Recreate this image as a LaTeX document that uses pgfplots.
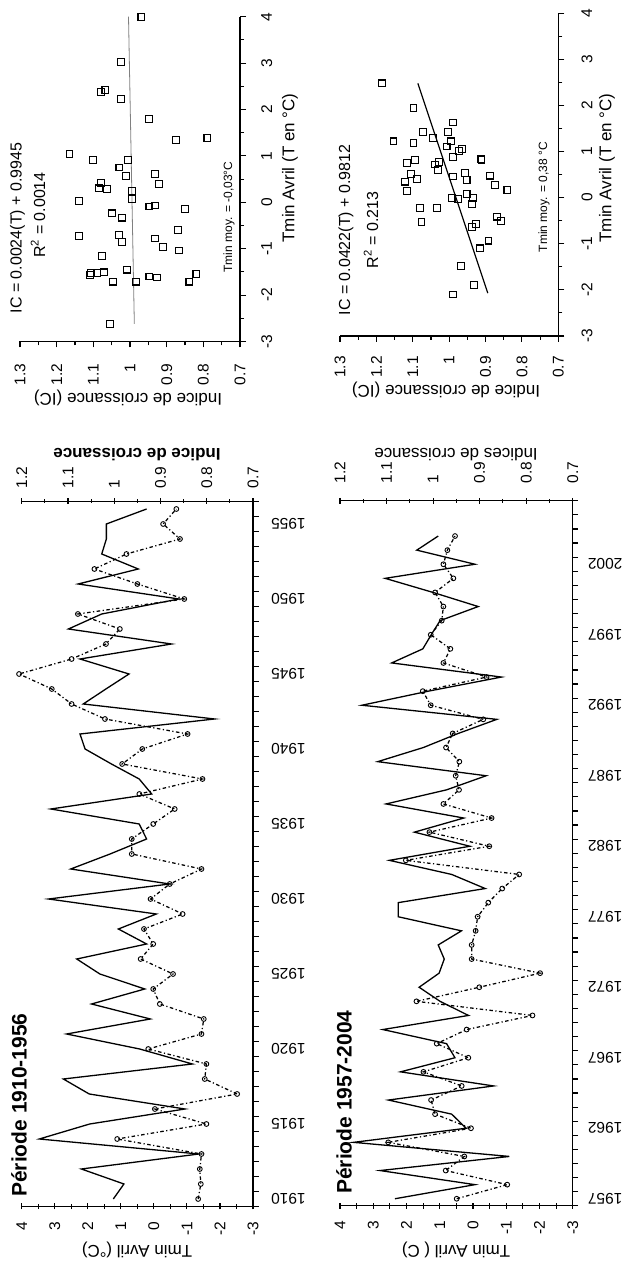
\documentclass[border=0pt]{standalone}
\usepackage{fontspec}
\setmainfont{Liberation Sans}
\usepackage{graphicx}
\usepackage{pgfplots}
\pgfplotsset{compat=1.18}
\newcommand\tickfont{\fontsize{15.5}{18}\selectfont}
\newcommand\labfont{\fontsize{17}{20}\selectfont}
\pgfplotsset{
  myaxis/.style={scale only axis, anchor=south west, clip=false,
    axis line style={line width=1.4pt},
    tick style={black, line width=1.1pt},
    major tick length=6pt, minor tick length=4pt,
    tick label style={font=\tickfont, inner sep=0pt},
  },
  yearaxis/.style={major x tick style={draw=none},
    minor x tick style={black, line width=1.2pt}, minor tick length=5.5pt,
    xticklabel style={rotate=90, anchor=east}, xtick align=outside},
  tsline/.style={black, line width=1.3pt, mark=none},
  tscirc/.style={black, line width=1.25pt, dash pattern=on 3.5pt off 2.5pt on 1.2pt off 2.5pt,
    mark=o, mark size=2.4pt, mark options={solid, line width=0.9pt}},
  scsq/.style={only marks, mark=square, mark size=3.4pt, mark options={black, line width=1.1pt}},
}
\begin{document}
\rotatebox{90}{%
\begin{tikzpicture}
\useasboundingbox (0pt,0pt) rectangle (1264pt,-622pt);
% ===== Time series 1910-1956 =====
\begin{axis}[myaxis, at={(57.5pt,-253pt)}, width=705pt, height=231.3pt,
  xmin=1909.5, xmax=1956.5, ymin=-3, ymax=4,
  axis x line*=bottom, axis y line*=left, yearaxis,
  xtick={1910,1915,...,1955},
  xticklabels={1910,1915,1920,1925,1930,1935,1940,1945,1950,1955},
  minor xtick={1909.5,1910.5,...,1956.5},
  xticklabel shift=12pt, ytick align=center,
  ytick={-3,-2,-1,0,1,2,3,4}, yticklabels={-3,-2,-1,0,1,2,3,4},
  minor ytick={-2.5,-1.5,-0.5,0.5,1.5,2.5,3.5},
  yticklabel shift=12pt]
\addplot[tscirc] coordinates {(1910,-1.34) (1911,-1.42) (1912,-1.39) (1913,-1.44) (1914,1.11) (1915,-1.59) (1916,-0.03) (1917,-2.52) (1918,-1.54) (1919,-1.59) (1920,0.17) (1921,-1.44) (1922,-1.51) (1923,-0.18) (1924,0.02) (1925,-0.58) (1926,0.40) (1927,0.02) (1928,0.30) (1929,-0.87) (1930,0.10) (1931,-0.48) (1932,-1.44) (1933,0.67) (1934,0.67) (1935,0.02) (1936,-0.63) (1937,0.44) (1938,-1.47) (1939,0.96) (1940,0.35) (1941,-1.02) (1942,1.48) (1943,2.49) (1944,3.09) (1945,4.08) (1946,2.49) (1947,1.45) (1948,1.03) (1949,2.30) (1950,-0.92) (1951,0.50) (1952,1.80) (1953,0.83) (1954,-0.79) (1955,-0.28) (1956,-0.68)};
\end{axis}
\begin{axis}[myaxis, at={(57.5pt,-253pt)}, width=705pt, height=231.3pt,
  xmin=1909.5, xmax=1956.5, ymin=0.7, ymax=1.2,
  axis x line=none, axis y line*=right, ytick align=center,
  ytick={0.7,0.8,0.9,1,1.1,1.2}, yticklabels={0.7,0.8,0.9,1,1.1,1.2},
  minor ytick={0.75,0.85,0.95,1.05,1.15},
  yticklabel shift=10pt]
\addplot[tsline] coordinates {(1910,1.002) (1911,0.979) (1912,1.071) (1913,0.817) (1914,1.162) (1915,1.053) (1916,0.847) (1917,1.054) (1918,1.110) (1919,0.831) (1920,0.945) (1921,1.103) (1922,0.922) (1923,1.049) (1924,0.934) (1925,1.031) (1926,1.081) (1927,0.930) (1928,0.991) (1929,0.909) (1930,1.142) (1931,0.880) (1932,1.094) (1933,1.009) (1934,0.930) (1935,0.946) (1936,1.137) (1937,0.919) (1938,0.946) (1939,1.006) (1940,1.063) (1941,1.074) (1942,0.783) (1943,1.067) (1944,1.018) (1945,0.968) (1946,1.074) (1947,0.876) (1948,1.099) (1949,1.027) (1950,0.860) (1951,1.078) (1952,0.948) (1953,1.027) (1954,1.017) (1955,1.017) (1956,0.930)};
\end{axis}
% ===== Time series 1957-2004 =====
\begin{axis}[myaxis, at={(58.2pt,-572.7pt)}, width=705pt, height=232.7pt,
  xmin=1956.5, xmax=2006.5, ymin=-3, ymax=4,
  axis x line*=bottom, axis y line*=left, yearaxis,
  xtick={1957,1962,...,2002},
  xticklabels={1957,1962,1967,1972,1977,1982,1987,1992,1997,2002},
  minor xtick={1956.5,1957.5,...,2006.5},
  xticklabel shift=9pt, ytick align=center,
  ytick={-3,-2,-1,0,1,2,3,4}, yticklabels={-3,-2,-1,0,1,2,3,4},
  minor ytick={-2.5,-1.5,-0.5,0.5,1.5,2.5,3.5},
  yticklabel shift=12pt]
\addplot[tscirc] coordinates {(1957,0.49) (1958,-1.03) (1959,0.82) (1960,0.26) (1961,2.55) (1962,0.06) (1963,1.14) (1964,1.26) (1965,0.34) (1966,1.49) (1967,0.14) (1968,1.09) (1969,0.19) (1970,-1.79) (1971,1.70) (1972,-0.19) (1973,-2.02) (1974,0.04) (1975,0.04) (1976,-0.08) (1977,-0.14) (1978,-0.46) (1979,-0.88) (1980,-1.39) (1981,2.02) (1982,-0.49) (1983,1.31) (1984,-0.56) (1985,0.89) (1986,0.42) (1987,0.52) (1988,0.41) (1989,0.81) (1990,0.61) (1991,-0.31) (1992,1.27) (1993,1.51) (1994,-0.41) (1995,0.89) (1996,0.68) (1997,1.27) (1998,0.94) (1999,0.89) (2000,1.14) (2001,0.59) (2002,0.89) (2003,0.77) (2004,0.54)};
\end{axis}
\begin{axis}[myaxis, at={(58.2pt,-572.7pt)}, width=705pt, height=232.7pt,
  xmin=1956.5, xmax=2006.5, ymin=0.7, ymax=1.2,
  axis x line=none, axis y line*=right, ytick align=center,
  ytick={0.7,0.8,0.9,1,1.1,1.2}, yticklabels={0.7,0.8,0.9,1,1.1,1.2},
  minor ytick={0.75,0.85,0.95,1.05,1.15},
  yticklabel shift=14pt]
\addplot[tsline] coordinates {(1957,1.082) (1958,0.910) (1959,1.114) (1960,0.836) (1961,1.171) (1962,0.929) (1963,0.960) (1964,1.096) (1965,0.870) (1966,1.070) (1967,0.953) (1968,0.971) (1969,1.108) (1970,0.924) (1971,0.985) (1972,1.030) (1973,0.987) (1974,0.976) (1975,0.989) (1976,0.939) (1977,1.075) (1978,1.075) (1979,0.888) (1980,0.960) (1981,1.094) (1982,0.921) (1983,1.040) (1984,0.934) (1985,1.101) (1986,0.971) (1987,0.886) (1988,1.119) (1989,1.021) (1990,0.946) (1991,0.863) (1992,1.153) (1993,1.010) (1994,0.853) (1995,1.089) (1996,1.022) (1997,1.004) (1998,0.985) (1999,0.903) (2000,1.000) (2001,1.103) (2002,0.910) (2003,1.035) (2004,0.989)};
\end{axis}
% ===== Scatter 1910-1956 =====
\begin{axis}[myaxis, at={(922.5pt,-240pt)}, width=324.8pt, height=220pt,
  xmin=-3, xmax=4, ymin=0.7, ymax=1.3,
  axis x line*=bottom, axis y line*=left, tick align=outside,
  xtick={-3,-2,-1,0,1,2,3,4}, xticklabels={-3,-2,-1,0,1,2,3,4},
  minor xtick={-2.5,-1.5,-0.5,0.5,1.5,2.5,3.5},
  ytick={0.7,0.8,0.9,1,1.1,1.2,1.3}, yticklabels={0.7,0.8,0.9,1,1.1,1.2,1.3},
  minor ytick={0.75,0.85,0.95,1.05,1.15,1.25},
  xticklabel shift=15pt, yticklabel shift=16pt]
\addplot[scsq] coordinates {(4.0,0.969) (3.03,1.025) (2.42,1.067) (2.38,1.079) (2.22,1.025) (1.79,0.948) (1.34,0.875) (1.38,0.789) (1.04,1.165) (0.91,1.101) (0.91,1.006) (0.75,1.029) (0.57,1.011) (0.61,0.932) (0.39,0.921) (0.41,1.079) (0.30,1.085) (0.28,1.063) (0.25,0.994) (0.07,0.994) (0.03,1.139) (-0.09,0.947) (-0.07,0.931) (-0.15,0.850) (-0.24,1.049) (-0.33,1.021) (-0.60,0.870) (-0.73,1.139) (-0.71,1.030) (-0.86,1.021) (-0.78,0.932) (-0.97,0.910) (-1.04,0.867) (-1.15,1.076) (-1.45,1.008) (-1.57,1.110) (-1.53,1.107) (-1.53,1.090) (-1.51,1.070) (-1.71,1.046) (-1.71,0.983) (-1.60,0.947) (-1.62,0.926) (-1.71,0.838) (-1.55,0.819) (-2.62,1.055)};
\addplot[gray, line width=0.8pt] coordinates {(-2.62,0.9882) (4.0,1.0041)};
\end{axis}
% ===== Scatter 1957-2004 =====
\begin{axis}[myaxis, at={(928pt,-558.3pt)}, width=322.7pt, height=218.3pt,
  xmin=-3, xmax=4, ymin=0.7, ymax=1.3,
  axis x line*=bottom, axis y line*=left, tick align=outside,
  xtick={-3,-2,-1,0,1,2,3,4}, xticklabels={-3,-2,-1,0,1,2,3,4},
  minor xtick={-2.5,-1.5,-0.5,0.5,1.5,2.5,3.5},
  ytick={0.7,0.8,0.9,1,1.1,1.2,1.3}, yticklabels={0.7,0.8,0.9,1,1.1,1.2,1.3},
  minor ytick={0.75,0.85,0.95,1.05,1.15,1.25},
  xticklabel shift=17pt, yticklabel shift=14pt]
\addplot[scsq] coordinates {(2.48,1.184) (1.94,1.098) (1.22,1.153) (1.43,1.071) (1.29,1.045) (1.63,0.990) (1.42,1.004) (1.22,0.995) (1.18,1.098) (1.11,1.007) (1.06,0.964) (1.02,0.972) (0.89,0.990) (0.84,0.913) (0.82,0.911) (0.76,1.115) (0.82,1.094) (0.72,1.039) (0.77,1.027) (0.60,1.030) (0.51,1.105) (0.46,0.990) (0.48,0.888) (0.54,0.956) (0.38,0.952) (0.35,1.121) (0.41,1.089) (0.28,0.874) (0.15,1.115) (0.17,0.840) (0.00,0.993) (-0.03,0.975) (0.08,0.952) (0.00,0.934) (-0.14,0.938) (-0.23,1.080) (-0.23,1.034) (-0.53,1.076) (-0.41,0.869) (-0.50,0.858) (-0.63,0.938) (-0.57,0.926) (-0.93,0.892) (-1.10,0.915) (-1.48,0.968) (-1.89,0.931) (-2.10,0.990)};
\addplot[black, line width=1.2pt] coordinates {(-2.07,0.8938) (2.48,1.0859)};
\end{axis}
% ===== texts =====
\node[font=\bfseries\fontsize{21}{24}\selectfont, anchor=base west, inner sep=0pt] at (67pt,-26.7pt) {Période 1910-1956};
\node[font=\bfseries\fontsize{21}{24}\selectfont, anchor=base west, inner sep=0pt] at (70pt,-351.7pt) {Période 1957-2004};
\node[font=\labfont, rotate=90] at (14pt,-137pt) {Tmin Avril (°C)};
\node[font=\labfont, rotate=90] at (14pt,-456pt) {Tmin Avril ( C)};
\node[font=\bfseries\labfont, rotate=90] at (809pt,-137pt) {Indice de croissance};
\node[font=\labfont, rotate=90] at (809pt,-456pt) {Indices de croissance};
\node[font=\labfont] at (1096pt,-290pt) {Tmin Avril (T en °C)};
\node[font=\labfont, rotate=90] at (866pt,-128pt) {Indice de croissance (IC)};
\node[font=\labfont] at (1096pt,-607pt) {Tmin Avril (T en °C)};
\node[font=\labfont, rotate=90] at (874pt,-446pt) {Indice de croissance (IC)};
\node[font=\fontsize{16}{19}\selectfont, anchor=base, inner sep=0pt] at (1036pt,-21.7pt) {IC = 0.0024(T) + 0.9945};
\node[font=\fontsize{16}{19}\selectfont, anchor=base, inner sep=0pt] at (1049pt,-45pt) {R\textsuperscript{2} = 0.0014};
\node[font=\fontsize{12}{14}\selectfont, anchor=base, inner sep=0pt] at (1047pt,-232pt) {Tmin moy. = -0,03°C};
\node[font=\fontsize{16}{19}\selectfont, anchor=base, inner sep=0pt] at (1034pt,-350pt) {IC = 0.0422(T) + 0.9812};
\node[font=\fontsize{16}{19}\selectfont, anchor=base, inner sep=0pt] at (1034pt,-378pt) {R\textsuperscript{2} = 0.213};
\node[font=\fontsize{12}{14}\selectfont, anchor=base, inner sep=0pt] at (1067pt,-547pt) {Tmin moy. = 0,38 °C};
\end{tikzpicture}}
\end{document}
